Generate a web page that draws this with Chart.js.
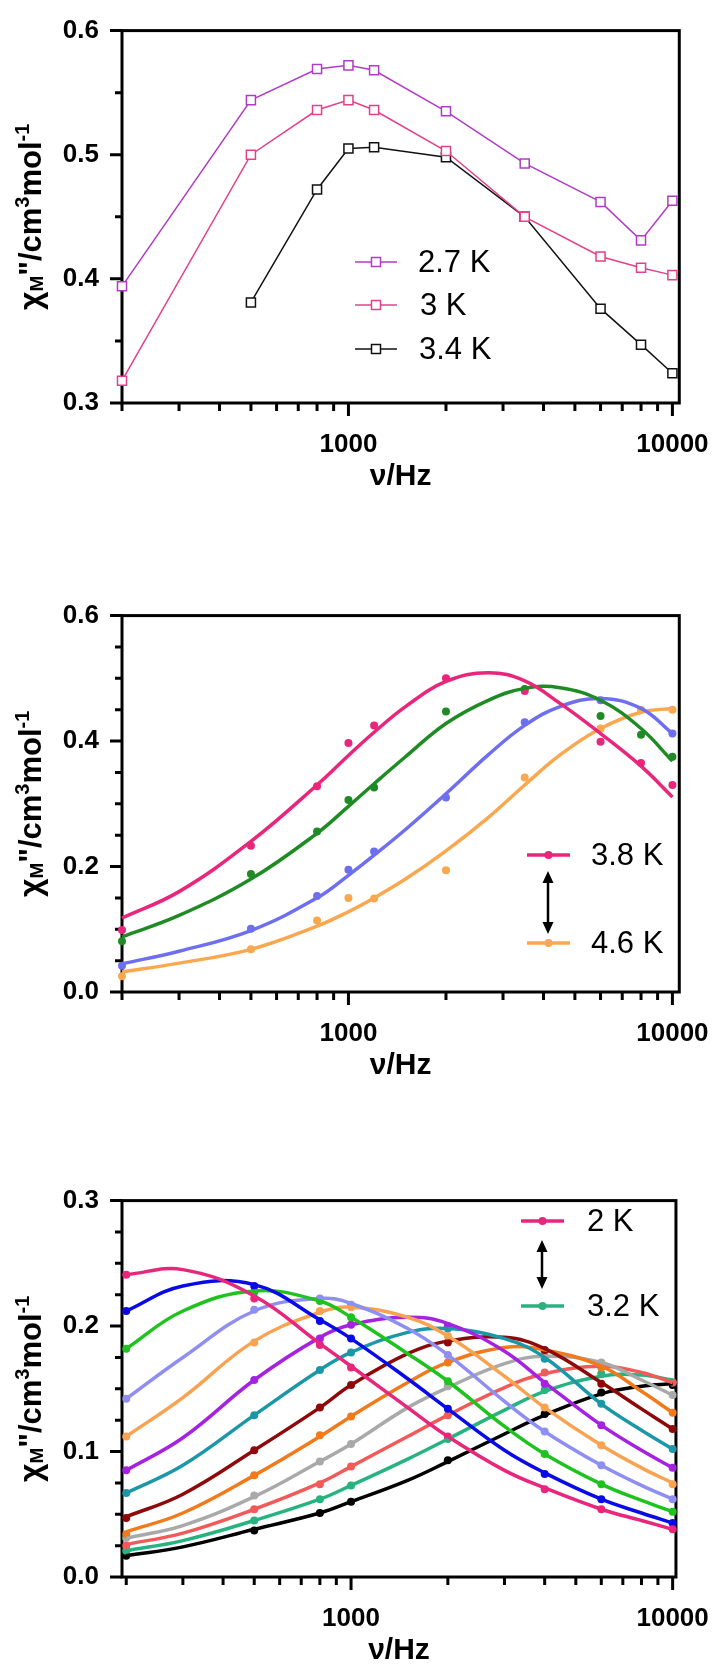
<!DOCTYPE html>
<html>
<head>
<meta charset="utf-8">
<script src="https://cdn.jsdelivr.net/npm/chart.js@4.4.0/dist/chart.umd.min.js"></script>
<style>
  body { margin: 0; background: #fff; }
  #wrap { position: relative; width: 727px; height: 1665px; overflow: hidden; }
  canvas { position: absolute; left: 0; }
</style>
</head>
<body>
<div id="wrap">
  <canvas id="c1" width="727" height="585" style="top:0"></canvas>
  <canvas id="c2" width="727" height="585" style="top:585px"></canvas>
  <canvas id="c3" width="727" height="495" style="top:1170px"></canvas>
</div>
<script>
// ---- x axis (shared) ----
const X_TICKS = [200, 300, 400, 500, 600, 700, 800, 900, 1000, 2000, 3000, 4000, 5000, 6000, 7000, 8000, 9000, 10000];
const X_LABELS = [1000, 10000];

// ---- panel 1: open squares, straight lines ----
const P1_FREQ = [200, 500, 800, 1000, 1200, 2000, 3500, 6000, 8000, 10000];
const P1_27K = [0.394, 0.544, 0.569, 0.572, 0.568, 0.535, 0.493, 0.462, 0.431, 0.463];
const P1_3K = [0.318, 0.500, 0.536, 0.544, 0.536, 0.503, 0.450, 0.418, 0.409, 0.403];
const P1_34K = [null, 0.381, 0.472, 0.505, 0.506, 0.498, 0.450, 0.376, 0.347, 0.324];
const P1_Y_TICKS = [0.3, 0.35, 0.4, 0.45, 0.5, 0.55, 0.6];
const P1_Y_LABELS = [0.3, 0.4, 0.5, 0.6];

// ---- panel 2: 3.8 K -> 4.6 K, points + fitted curves ----
const P2_FREQ = [200, 500, 800, 1000, 1200, 2000, 3500, 6000, 8000, 10000];
const P2_PTS_PINK = [0.099, 0.233, 0.328, 0.397, 0.425, 0.500, 0.480, 0.399, 0.365, 0.330];
const P2_PTS_GREEN = [0.081, 0.188, 0.256, 0.306, 0.326, 0.447, 0.483, 0.440, 0.410, 0.375];
const P2_PTS_BLUE = [0.042, 0.101, 0.153, 0.195, 0.224, 0.310, 0.430, 0.465, null, 0.412];
const P2_PTS_ORANGE = [0.025, 0.068, 0.114, 0.150, 0.149, 0.194, 0.342, 0.420, 0.450, 0.450];
const P2_FIT_FREQ = [200, 300, 500, 800, 1000, 1200, 1500, 2000, 2700, 3500, 4500, 6000, 8000, 10000];
const P2_FIT_PINK = [0.118, 0.160, 0.240, 0.330, 0.377, 0.414, 0.455, 0.495, 0.509, 0.496, 0.460, 0.412, 0.360, 0.311];
const P2_FIT_GREEN = [0.088, 0.122, 0.180, 0.253, 0.296, 0.332, 0.375, 0.428, 0.465, 0.484, 0.485, 0.465, 0.420, 0.368];
const P2_FIT_BLUE = [0.045, 0.065, 0.098, 0.150, 0.186, 0.218, 0.259, 0.316, 0.378, 0.425, 0.455, 0.468, 0.452, 0.412];
const P2_FIT_ORANGE = [0.032, 0.046, 0.068, 0.105, 0.128, 0.150, 0.180, 0.225, 0.278, 0.330, 0.378, 0.420, 0.446, 0.452];
const P2_Y_TICKS = [0, 0.05, 0.1, 0.15, 0.2, 0.25, 0.3, 0.35, 0.4, 0.45, 0.5, 0.55, 0.6];
const P2_Y_LABELS = [0, 0.2, 0.4, 0.6];

// ---- panel 3: 2 K -> 3.2 K ----
const P3_FREQ = [200, 500, 800, 1000, 2000, 4000, 6000, 10000];
const P3_FIT_FREQ = [200, 300, 500, 800, 1000, 1500, 2000, 3000, 4000, 6000, 8000, 10000];
const P3_COLORS = ['#E8267C', '#0A0AE6', '#1FC21F', '#8F8FF2', '#F8A352', '#A522E0', '#1C97A8', '#8E0A0A', '#F07A1C', '#A9A9A9', '#F25A5A', '#27B37F', '#000000'];
const P3_PTS_20 = [0.241, 0.222, 0.185, 0.167, 0.112, 0.070, 0.054, 0.038];
const P3_PTS_21 = [0.212, 0.232, 0.204, 0.190, 0.134, 0.082, 0.062, 0.043];
const P3_PTS_22 = [0.182, 0.227, 0.220, 0.207, 0.156, 0.098, 0.074, 0.052];
const P3_PTS_23 = [0.142, 0.213, 0.222, 0.217, 0.177, 0.116, 0.089, 0.062];
const P3_PTS_24 = [0.112, 0.187, 0.212, 0.215, 0.192, 0.135, 0.105, 0.074];
const P3_PTS_25 = [0.085, 0.157, 0.190, 0.201, 0.200, 0.154, 0.121, 0.087];
const P3_PTS_26 = [0.067, 0.129, 0.165, 0.179, 0.198, 0.174, 0.138, 0.102];
const P3_PTS_27 = [0.047, 0.101, 0.135, 0.153, 0.187, 0.181, 0.154, 0.118];
const P3_PTS_28 = [0.034, 0.081, 0.113, 0.128, 0.171, 0.180, 0.167, 0.131];
const P3_PTS_29 = [0.031, 0.065, 0.092, 0.106, 0.152, 0.176, 0.171, 0.145];
const P3_PTS_30 = [0.025, 0.054, 0.074, 0.088, 0.129, 0.163, 0.168, 0.155];
const P3_PTS_31 = [0.021, 0.045, 0.062, 0.073, 0.110, 0.149, 0.162, 0.155];
const P3_PTS_32 = [0.017, 0.037, 0.051, 0.060, 0.093, 0.130, 0.147, 0.153];
const P3_FIT_20 = [0.241, 0.245, 0.224, 0.186, 0.168, 0.135, 0.112, 0.085, 0.071, 0.054, 0.045, 0.038];
const P3_FIT_21 = [0.212, 0.232, 0.233, 0.205, 0.190, 0.158, 0.134, 0.101, 0.083, 0.062, 0.051, 0.043];
const P3_FIT_22 = [0.182, 0.212, 0.228, 0.220, 0.207, 0.178, 0.156, 0.120, 0.098, 0.074, 0.061, 0.052];
const P3_FIT_23 = [0.142, 0.175, 0.212, 0.222, 0.218, 0.198, 0.177, 0.140, 0.116, 0.089, 0.073, 0.062];
const P3_FIT_24 = [0.112, 0.143, 0.188, 0.211, 0.215, 0.207, 0.192, 0.160, 0.135, 0.105, 0.087, 0.075];
const P3_FIT_25 = [0.085, 0.111, 0.157, 0.191, 0.201, 0.207, 0.202, 0.180, 0.155, 0.121, 0.101, 0.087];
const P3_FIT_26 = [0.067, 0.089, 0.129, 0.165, 0.179, 0.195, 0.198, 0.190, 0.175, 0.138, 0.117, 0.102];
const P3_FIT_27 = [0.048, 0.066, 0.101, 0.135, 0.153, 0.178, 0.188, 0.191, 0.182, 0.155, 0.134, 0.118];
const P3_FIT_28 = [0.036, 0.051, 0.081, 0.112, 0.128, 0.155, 0.171, 0.183, 0.181, 0.168, 0.148, 0.131];
const P3_FIT_29 = [0.031, 0.041, 0.064, 0.092, 0.106, 0.135, 0.151, 0.170, 0.176, 0.171, 0.157, 0.145];
const P3_FIT_30 = [0.026, 0.035, 0.054, 0.075, 0.088, 0.112, 0.129, 0.151, 0.162, 0.168, 0.163, 0.155];
const P3_FIT_31 = [0.021, 0.029, 0.045, 0.062, 0.073, 0.094, 0.110, 0.133, 0.148, 0.160, 0.161, 0.157];
const P3_FIT_32 = [0.017, 0.024, 0.038, 0.051, 0.060, 0.077, 0.092, 0.114, 0.129, 0.146, 0.152, 0.154];
const P3_PTS = [P3_PTS_20, P3_PTS_21, P3_PTS_22, P3_PTS_23, P3_PTS_24, P3_PTS_25, P3_PTS_26, P3_PTS_27, P3_PTS_28, P3_PTS_29, P3_PTS_30, P3_PTS_31, P3_PTS_32];
const P3_FITS = [P3_FIT_20, P3_FIT_21, P3_FIT_22, P3_FIT_23, P3_FIT_24, P3_FIT_25, P3_FIT_26, P3_FIT_27, P3_FIT_28, P3_FIT_29, P3_FIT_30, P3_FIT_31, P3_FIT_32];
const P3_Y_TICKS = [0, 0.025, 0.05, 0.075, 0.1, 0.125, 0.15, 0.175, 0.2, 0.225, 0.25, 0.275, 0.3];
const P3_Y_LABELS = [0, 0.1, 0.2, 0.3];

const FONT = "'Liberation Sans', Arial, sans-serif";
const xy = (xs, ys) => xs.map((x, i) => ({ x, y: ys[i] }));

// --- helper datasets ---
function fitLine(xs, ys, color) {
    return { data: xy(xs, ys), borderColor: color, borderWidth: 3.5, pointRadius: 0,
        tension: 0.4, clip: false };
}
function dots(xs, ys, color) {
    return { data: xy(xs, ys), showLine: false, pointRadius: 4, pointBorderWidth: 0,
        pointBackgroundColor: color, borderColor: color, clip: false };
}
function squares(xs, ys, color) {
    return { data: xy(xs, ys), borderColor: color, borderWidth: 1.5, tension: 0,
        pointStyle: 'rect', pointRadius: 6.4, pointBorderWidth: 1.5,
        pointBorderColor: color, pointBackgroundColor: '#fff', clip: false };
}

// frame + tick marks, drawn under the data
function drawFrame(chart) {
    const { ctx, chartArea: a, scales: { x, y } } = chart;
    ctx.save();
    ctx.strokeStyle = '#000';
    ctx.lineWidth = 3;
    ctx.strokeRect(a.left, a.top, a.right - a.left, a.bottom - a.top);
    ctx.beginPath();
    x.ticks.forEach(t => {
        const px = x.getPixelForValue(t.value);
        const len = t.label ? 13 : 8;
        ctx.moveTo(px, a.bottom);
        ctx.lineTo(px, a.bottom + len);
    });
    y.ticks.forEach(t => {
        const py = y.getPixelForValue(t.value);
        const len = t.label ? 12 : 7;
        ctx.moveTo(a.left, py);
        ctx.lineTo(a.left - len, py);
    });
    ctx.stroke();
    ctx.restore();
}

// axis titles: chi_M''/cm^3 mol^-1  and  nu/Hz
function drawTitles(chart) {
    const { ctx, chartArea: a } = chart;
    ctx.save();
    ctx.fillStyle = '#000';
    ctx.font = `bold 30px ${FONT}`;
    ctx.textAlign = 'center';
    ctx.textBaseline = 'middle';
    ctx.fillText('\u03bd/Hz', (a.left + a.right) / 2, a.bottom + 74);

    const parts = [
        ['\u03c7', 32, 0], ['M', 19, 2], ['"/cm', 31, 0], ['3', 20, -12], ['mol', 31, 0], ['-1', 20, -12]
    ];
    ctx.translate(30, (a.top + a.bottom) / 2);
    ctx.rotate(-Math.PI / 2);
    ctx.textAlign = 'left';
    ctx.textBaseline = 'alphabetic';
    let total = 0;
    parts.forEach(p => { ctx.font = `bold ${p[1]}px ${FONT}`; total += ctx.measureText(p[0]).width; });
    let cx = -total / 2;
    parts.forEach(p => {
        ctx.font = `bold ${p[1]}px ${FONT}`;
        ctx.fillText(p[0], cx, 11 + p[2]);
        cx += ctx.measureText(p[0]).width;
    });
    ctx.restore();
}

function drawArrow(ctx, x, y0, y1) {
    ctx.save();
    ctx.strokeStyle = '#000';
    ctx.fillStyle = '#000';
    ctx.lineWidth = 2.5;
    ctx.beginPath();
    ctx.moveTo(x, y0 + 8);
    ctx.lineTo(x, y1 - 8);
    ctx.stroke();
    ctx.beginPath();
    ctx.moveTo(x, y0); ctx.lineTo(x - 5.5, y0 + 12); ctx.lineTo(x + 5.5, y0 + 12); ctx.closePath();
    ctx.moveTo(x, y1); ctx.lineTo(x - 5.5, y1 - 12); ctx.lineTo(x + 5.5, y1 - 12); ctx.closePath();
    ctx.fill();
    ctx.restore();
}

function legendDotLine(ctx, x0, x1, y, color, text, tx) {
    ctx.save();
    ctx.strokeStyle = color;
    ctx.fillStyle = color;
    ctx.lineWidth = 3.5;
    ctx.beginPath();
    ctx.moveTo(x0, y); ctx.lineTo(x1, y);
    ctx.stroke();
    ctx.beginPath();
    ctx.arc((x0 + x1) / 2, y, 4, 0, Math.PI * 2);
    ctx.fill();
    ctx.fillStyle = '#000';
    ctx.font = `31px ${FONT}`;
    ctx.textBaseline = 'middle';
    ctx.fillText(text, tx, y + 1);
    ctx.restore();
}

function legendSquare(ctx, x0, x1, y, color, text, tx) {
    ctx.save();
    ctx.strokeStyle = color;
    ctx.lineWidth = 1.5;
    ctx.beginPath();
    ctx.moveTo(x0, y); ctx.lineTo(x1, y);
    ctx.stroke();
    const m = (x0 + x1) / 2;
    ctx.fillStyle = '#fff';
    ctx.fillRect(m - 4.5, y - 4.5, 9, 9);
    ctx.strokeRect(m - 4.5, y - 4.5, 9, 9);
    ctx.fillStyle = '#000';
    ctx.font = `31px ${FONT}`;
    ctx.textBaseline = 'middle';
    ctx.fillText(text, tx, y + 1);
    ctx.restore();
}

function makeChart(id, cfg) {
    const canvas = document.getElementById(id);
    const h = canvas.height;
    return new Chart(canvas, {
        type: 'line',
        data: { datasets: cfg.datasets },
        options: {
            responsive: false,
            animation: false,
            events: [],
            layout: { padding: { top: 25, right: 35, left: 0, bottom: 0 } },
            plugins: { legend: { display: false }, tooltip: { enabled: false } },
            scales: {
                x: {
                    type: 'logarithmic',
                    min: cfg.xMin,
                    max: cfg.xMax,
                    afterBuildTicks: s => { s.ticks = X_TICKS.map(v => ({ value: v })); },
                    afterFit: s => { s.height = h - cfg.bottom; },
                    grid: { display: false },
                    border: { display: false },
                    ticks: {
                        autoSkip: false, maxRotation: 0, padding: 18, color: '#000',
                        font: { family: FONT, size: 26, weight: 'bold' },
                        callback: v => X_LABELS.includes(v) ? String(v) : ''
                    }
                },
                y: {
                    type: 'linear',
                    min: cfg.yMin,
                    max: cfg.yMax,
                    afterBuildTicks: s => { s.ticks = cfg.yTicks.map(v => ({ value: v })); },
                    afterFit: s => { s.width = 122; },
                    grid: { display: false },
                    border: { display: false },
                    ticks: {
                        autoSkip: false, padding: 15, color: '#000',
                        font: { family: FONT, size: 26, weight: 'bold' },
                        callback: v => cfg.yLabels.includes(v) ? v.toFixed(1) : ''
                    }
                }
            }
        },
        plugins: [{
            id: 'frame',
            beforeDatasetsDraw: chart => drawFrame(chart),
            afterDraw: chart => { drawTitles(chart); cfg.legend(chart.ctx); }
        }]
    });
}

// ─── Panel 1 ───
makeChart('c1', {
    xMin: 200, xMax: 10500, yMin: 0.3, yMax: 0.6, bottom: 403,
    yTicks: P1_Y_TICKS, yLabels: P1_Y_LABELS,
    datasets: [
        squares(P1_FREQ, P1_27K, '#B13BC6'),
        squares(P1_FREQ, P1_3K, '#E2408C'),
        squares(P1_FREQ, P1_34K, '#111111')
    ],
    legend: ctx => {
        legendSquare(ctx, 355, 397, 262, '#B13BC6', '2.7 K', 418);
        legendSquare(ctx, 355, 397, 305, '#E2408C', '3 K', 420);
        legendSquare(ctx, 355, 397, 349, '#111111', '3.4 K', 419);
    }
});

// ─── Panel 2 ───
makeChart('c2', {
    xMin: 200, xMax: 10500, yMin: 0, yMax: 0.6, bottom: 407,
    yTicks: P2_Y_TICKS, yLabels: P2_Y_LABELS,
    datasets: [
        fitLine(P2_FIT_FREQ, P2_FIT_PINK, '#E8267C'),
        fitLine(P2_FIT_FREQ, P2_FIT_GREEN, '#1F8B24'),
        fitLine(P2_FIT_FREQ, P2_FIT_BLUE, '#6E6EF0'),
        fitLine(P2_FIT_FREQ, P2_FIT_ORANGE, '#F9A84F'),
        dots(P2_FREQ, P2_PTS_PINK, '#E8267C'),
        dots(P2_FREQ, P2_PTS_GREEN, '#1F8B24'),
        dots(P2_FREQ, P2_PTS_BLUE, '#6E6EF0'),
        dots(P2_FREQ, P2_PTS_ORANGE, '#F9A84F')
    ],
    legend: ctx => {
        legendDotLine(ctx, 527, 570, 270, '#E8267C', '3.8 K', 591);
        legendDotLine(ctx, 527, 570, 358, '#F9A84F', '4.6 K', 591);
        drawArrow(ctx, 548, 286, 349);
    }
});

// ─── Panel 3 ───
makeChart('c3', {
    xMin: 194, xMax: 10240, yMin: 0, yMax: 0.3, bottom: 407,
    yTicks: P3_Y_TICKS, yLabels: P3_Y_LABELS,
    datasets: [
        ...P3_FITS.map((f, i) => fitLine(P3_FIT_FREQ, f, P3_COLORS[i])),
        ...P3_PTS.map((p, i) => dots(P3_FREQ, p, P3_COLORS[i]))
    ],
    legend: ctx => {
        legendDotLine(ctx, 521, 564, 51, '#E8267C', '2 K', 587);
        legendDotLine(ctx, 521, 564, 136, '#27B37F', '3.2 K', 587);
        drawArrow(ctx, 542, 70, 119);
    }
});
</script>
</body>
</html>
